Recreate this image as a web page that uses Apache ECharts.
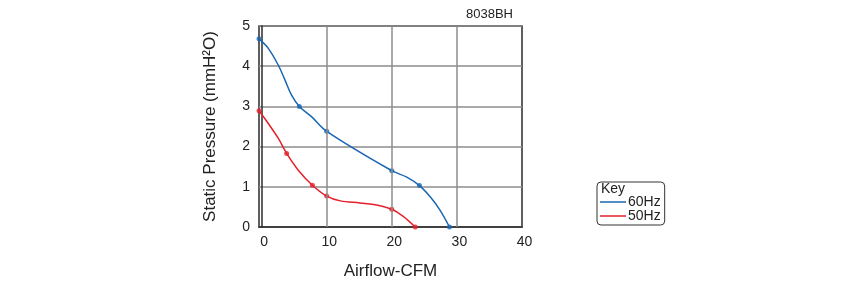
<!DOCTYPE html>
<html>
<head>
<meta charset="utf-8">
<script src="https://cdn.jsdelivr.net/npm/echarts@6/dist/echarts.min.js"></script>
<style>html,body{margin:0;padding:0;background:#fff}#c{width:861px;height:285px}</style>
</head>
<body>
<div id="c"></div>
<script>
var chartTitle = '8038BH';
var xTickValues = [0, 10, 20, 30, 40];
var xGridValues = [10, 20, 30];
var seriesNames = ['60Hz', '50Hz'];
var blueCurve = [[-0.4,4.68],[1.0,4.45],[2.55,4.03],[3.58,3.66],[4.6,3.28],[5.8,3.0],[7.7,2.74],[10,2.38],[20,1.40],[22.3,1.24],[24.25,1.03],[25.9,0.75],[27.4,0.42],[28.86,0]];
var blueMarkers = [[-0.4,4.68],[5.8,3.0],[10,2.38],[20,1.40],[24.25,1.03],[28.86,0]];
var redCurve = [[-0.4,2.89],[1.0,2.58],[2.55,2.21],[3.85,1.83],[5.6,1.42],[7.8,1.04],[10,0.77],[12.1,0.65],[15.1,0.60],[17.7,0.55],[20,0.44],[21.8,0.26],[23.6,0]];
var redMarkers = [[-0.4,2.89],[3.85,1.83],[7.8,1.04],[10,0.77],[20,0.44],[23.6,0]];

var blue = '#1b66b1', red = '#e6202a';
var chart = echarts.init(document.getElementById('c'));
chart.setOption({
  animation: false,
  textStyle: {fontFamily: 'Liberation Sans, Arial, sans-serif'},
  title: {text: chartTitle, right: 343, top: 3, textStyle: {fontSize: 13, fontWeight: 'normal', color: '#222'}},
  grid: {left: 259, right: 339, top: 26, bottom: 58, show: true, borderColor: '#2b2b2b', borderWidth: 1.5},
  legend: {
    data: seriesNames, orient: 'vertical', left: 597, top: 182,
    borderColor: '#333', borderWidth: 1, borderRadius: 4,
    padding: [13, 4, 2, 3], itemGap: 0, itemWidth: 26, itemHeight: 1.5,
    icon: 'rect', textStyle: {fontSize: 14, lineHeight: 13, color: '#222', padding: [0,0,0,-3]}
  },
  graphic: [{type: 'text', left: 601, top: 182, style: {text: 'Key', fontSize: 14, fill: '#222', fontFamily: 'Liberation Sans, Arial, sans-serif'}}],
  xAxis: {
    type: 'value', min: -0.4, max: 40,
    name: 'Airflow-CFM', nameLocation: 'middle', nameGap: 36,
    nameTextStyle: {fontSize: 17, color: '#222'},
    axisLine: {show: true, lineStyle: {color: '#2b2b2b', width: 1.5}},
    axisTick: {show: false},
    splitLine: {show: false},
    axisLabel: {customValues: xTickValues, fontSize: 14, color: '#222', margin: 8, padding: [0,0,0,5]}
  },
  yAxis: {
    type: 'value', min: 0, max: 5, interval: 1,
    name: 'Static Pressure (mmH\u00b2O)', nameLocation: 'middle', nameGap: 40,
    nameTextStyle: {fontSize: 17, color: '#222'},
    axisLine: {show: true, lineStyle: {color: '#2b2b2b', width: 1.5}},
    axisTick: {show: false},
    splitLine: {show: true, lineStyle: {color: '#8c8c8c', width: 1.5}},
    axisLabel: {fontSize: 14, color: '#222', margin: 9}
  },
  series: [
    {name: seriesNames[0], type: 'line', data: blueCurve, smooth: 0.35, showSymbol: false, color: blue,
     lineStyle: {width: 1.5, color: blue}, z: 3,
     markLine: {silent: true, symbol: 'none', label: {show: false},
       lineStyle: {color: '#8c8c8c', width: 1.5, type: 'solid'},
       data: xGridValues.map(function(v){return {xAxis: v};})}},
    {name: seriesNames[1], type: 'line', data: redCurve, smooth: 0.35, showSymbol: false, color: red,
     lineStyle: {width: 1.5, color: red}, z: 3},
    {name: 'm60', type: 'scatter', data: blueMarkers, symbolSize: 5, itemStyle: {color: blue}, z: 4},
    {name: 'm50', type: 'scatter', data: redMarkers, symbolSize: 5, itemStyle: {color: red}, z: 4}
  ]
});
</script>
</body>
</html>
